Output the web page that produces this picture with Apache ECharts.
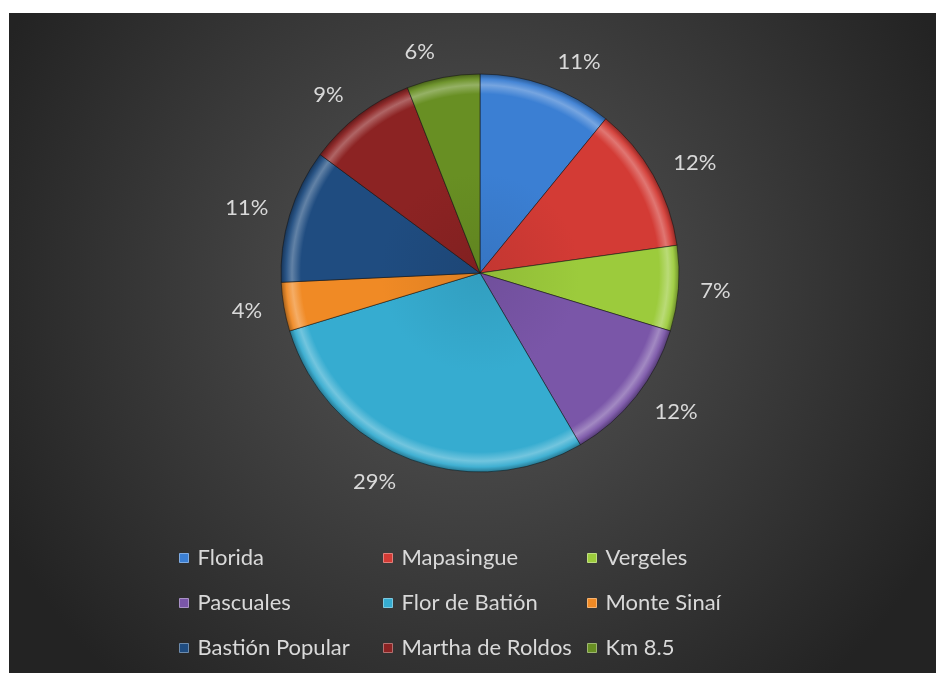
<!DOCTYPE html>
<html>
<head>
<meta charset="utf-8">
<script src="https://cdn.jsdelivr.net/npm/echarts@6/dist/echarts.min.js"></script>
<style>
  html, body { margin: 0; padding: 0; background: #ffffff; }
  #chart { position: absolute; left: 9px; top: 13px; width: 927px; height: 660px; }
</style>
</head>
<body>
<div id="chart"></div>
<script>
// Sectors and their share (percent), clockwise from 12 o'clock
const categories = ['Florida', 'Mapasingue', 'Vergeles', 'Pascuales', 'Flor de Batión',
                    'Monte Sinaí', 'Bastión Popular', 'Martha de Roldos', 'Km 8.5'];
const values = [11, 12, 7, 12, 29, 4, 11, 9, 6];
const colors = ['#3b7fd3', '#d33b35', '#9ccb3c', '#7a56a8', '#36acd0',
                '#f08a25', '#1f4c80', '#8c2323', '#688f23'];

// Legend columns (indices into categories)
const legendColumns = [
  [0, 3, 6],
  [1, 4, 7],
  [2, 5, 8]
];

const CX = 471, CY = 260, R = 199;

function shade(hex, amt) {
  const n = parseInt(hex.slice(1), 16);
  let r = (n >> 16) & 255, g = (n >> 8) & 255, b = n & 255;
  const f = c => Math.max(0, Math.min(255, Math.round(amt >= 0 ? c + (255 - c) * amt : c * (1 + amt))));
  return 'rgb(' + f(r) + ',' + f(g) + ',' + f(b) + ')';
}

// Bevelled look: a ring highlight near the rim of each slice
function bevel(hex) {
  return new echarts.graphic.RadialGradient(CX, CY, R, [
    { offset: 0, color: shade(hex, -0.08) },
    { offset: 0.5, color: hex },
    { offset: 0.9, color: hex },
    { offset: 0.945, color: shade(hex, 0.3) },
    { offset: 0.975, color: shade(hex, 0.05) },
    { offset: 1, color: shade(hex, -0.3) }
  ], true);
}

const chart = echarts.init(document.getElementById('chart'));

const pieData = categories.map((name, i) => ({
  name: name,
  value: values[i],
  itemStyle: { color: bevel(colors[i]) }
}));

const legendFont = { color: '#d9d9d9', fontSize: 22, fontFamily: 'Lato', lineHeight: 24, padding: [0, 0, 0, 4] };
const legendLefts = [170, 374, 578];

const legends = legendColumns.map((col, k) => ({
  orient: 'vertical',
  left: legendLefts[k],
  top: 533,
  padding: 0,
  itemWidth: 9,
  itemHeight: 9,
  itemGap: 21,
  icon: 'rect',
  selectedMode: false,
  textStyle: legendFont,
  data: col.map(i => ({ name: categories[i], itemStyle: { color: colors[i], borderColor: shade(colors[i], 0.35), borderWidth: 1 } }))
}));

chart.setOption({
  backgroundColor: new echarts.graphic.RadialGradient(0.5, 0.42, 0.8, [
    { offset: 0, color: '#575757' },
    { offset: 1, color: '#232323' }
  ]),
  color: colors,
  legend: legends,
  series: [{
    type: 'pie',
    center: [CX, CY],
    radius: R,
    startAngle: 90,
    clockwise: true,
    avoidLabelOverlap: false,
    animation: false,
    data: pieData,
    itemStyle: {
      borderColor: 'rgba(20,20,20,0.55)',
      borderWidth: 1
    },
    label: {
      show: true,
      position: 'outside',
      formatter: '{c}%',
      color: '#d9d9d9',
      fontSize: 22,
      fontFamily: 'Lato'
    },
    labelLine: { show: false, length: 17, length2: 0 },
    // push labels slightly further out vertically
    labelLayout: function (p) {
      const r = p.labelRect;
      const lx = r.x + r.width / 2 - CX;
      const ly = r.y + r.height / 2 - CY;
      const d = Math.hypot(lx, ly) || 1;
      return { dy: 9 * ly / d };
    },
    emphasis: { disabled: true }
  }]
});
</script>
</body>
</html>
